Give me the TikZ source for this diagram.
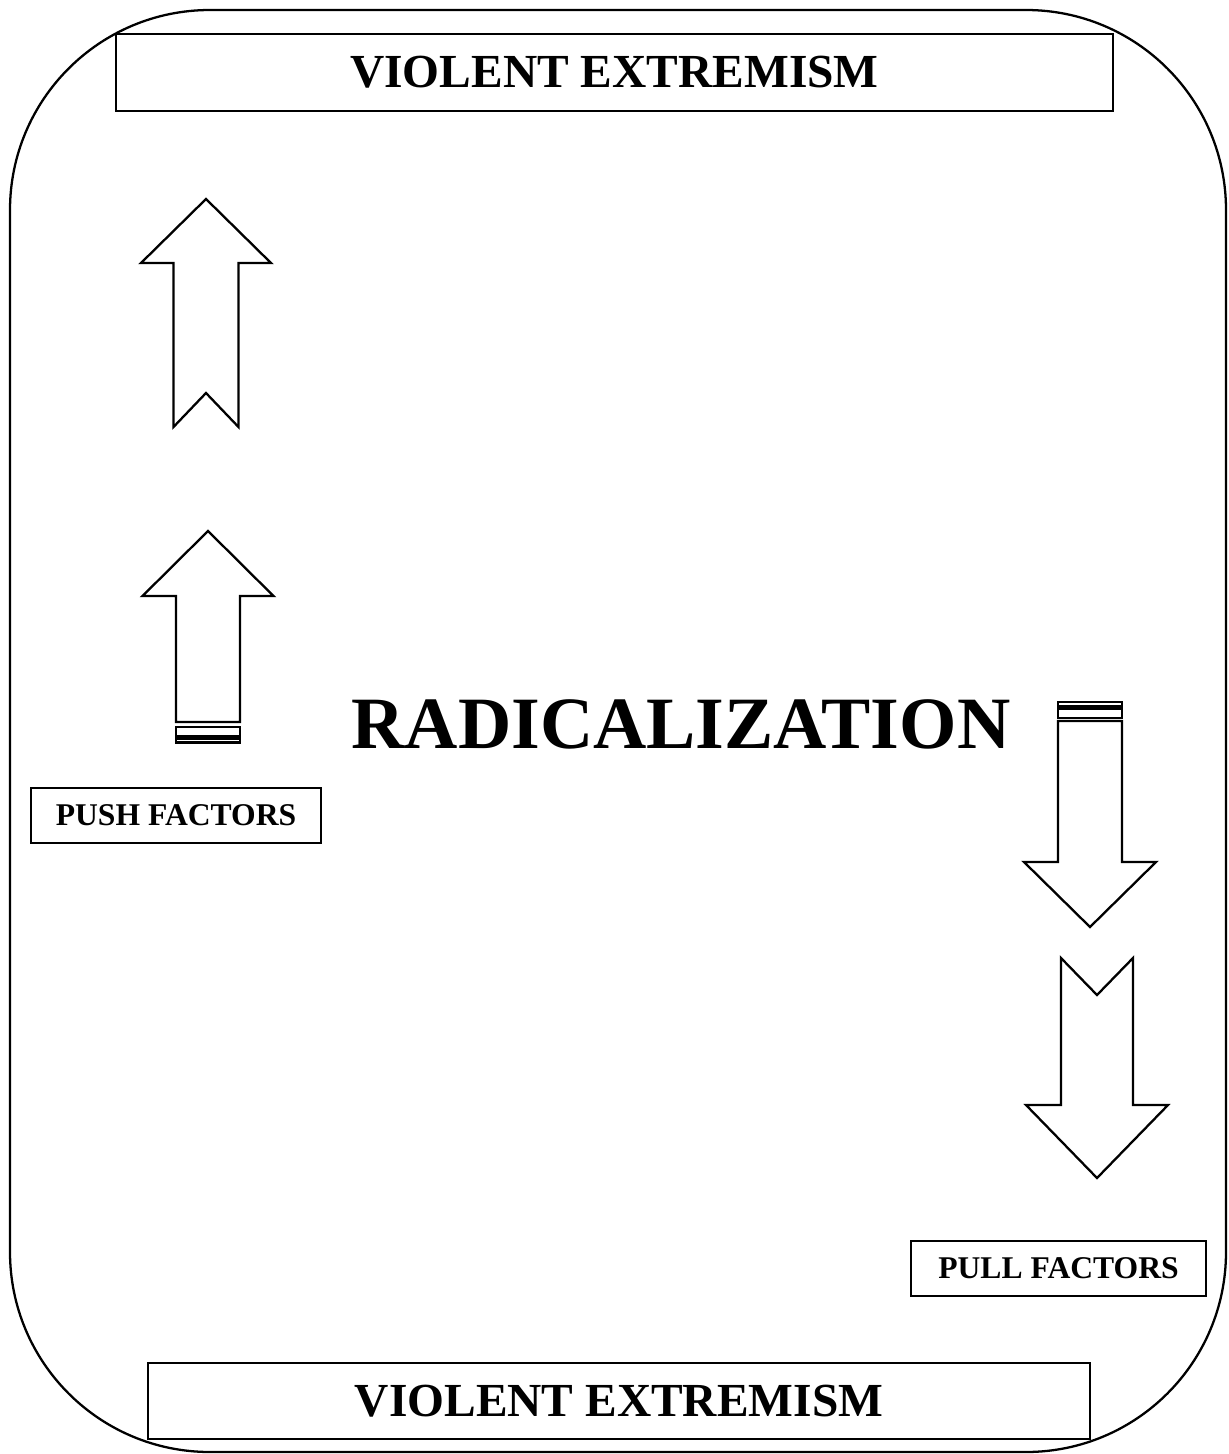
\documentclass[tikz,border=0pt]{standalone}
\usepackage{fontspec}
\setmainfont{Liberation Serif}

\tikzset{
	outline/.style={line width=1.3pt, line join=miter},
	labelbox/.style={draw, outline, inner sep=0pt, font=\bfseries},
}

\begin{document}
\begin{tikzpicture}[x=0.02cm, y=-0.02cm]
			\useasboundingbox (0,0) rectangle (1228,1454);
			\draw[outline, rounded corners=4cm] (10,10) rectangle (1226,1452); % frame
			% push arrows
			\draw[outline] (206,199) -- (271,263) -- (238.5,263) -- (238.5,427) -- (206,393) -- (173.5,427) -- (173.5,263) -- (141,263) -- cycle; % notched
			\draw[outline] (208,531) -- (273.5,596) -- (240,596) -- (240,722) -- (176,722) -- (176,596) -- (142.5,596) -- cycle; % striped
			\draw[outline] (176,727) rectangle (240,736); % stripe
			\draw[outline] (176,738.5) rectangle (240,742.5); % stripe
			% pull arrows
			\draw[outline] (1058,702) rectangle (1122,706.5); % stripe
			\draw[outline] (1058,709) rectangle (1122,718); % stripe
			\draw[outline] (1058,721) -- (1122,721) -- (1122,862) -- (1156,862) -- (1090,927) -- (1024,862) -- (1058,862) -- cycle; % striped
			\draw[outline] (1061,958) -- (1097,995) -- (1133,958) -- (1133,1105) -- (1168,1105) -- (1097,1178) -- (1026,1105) -- (1061,1105) -- cycle; % notched
			% labels
			\node[labelbox, minimum width=19.94cm, minimum height=1.54cm, font=\fontsize{27}{32}\selectfont\bfseries] (extremismtop) at (614.5,72.5) {VIOLENT EXTREMISM};
			\node[labelbox, minimum width=18.84cm, minimum height=1.52cm, font=\fontsize{27}{32}\selectfont\bfseries] (extremismbottom) at (619,1401) {VIOLENT EXTREMISM};
			\node[inner sep=0pt, font=\fontsize{42}{48}\selectfont\bfseries] (radical) at (681,724) {RADICALIZATION};
			\node[labelbox, minimum width=5.8cm, minimum height=1.1cm, font=\fontsize{18}{22}\selectfont\bfseries] (push) at (176,815.5) {PUSH FACTORS};
			\node[labelbox, minimum width=5.9cm, minimum height=1.1cm, font=\fontsize{18}{22}\selectfont\bfseries] (pull) at (1058.5,1268.5) {PULL FACTORS};
			\end{tikzpicture}
\end{document}
